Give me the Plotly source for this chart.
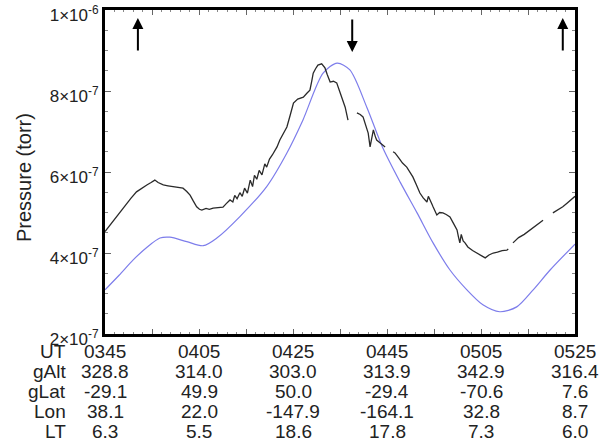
import plotly.graph_objects as go

# Time axis: minutes after 03:45 UT
ut_labels = ["0345", "0405", "0425", "0445", "0505", "0525"]
ut_minutes = [0, 20, 40, 60, 80, 100]
galt = ["328.8", "314.0", "303.0", "313.9", "342.9", "316.4"]
glat = ["-29.1", "49.9", "50.0", "-29.4", "-70.6", "7.6"]
lon = ["38.1", "22.0", "-147.9", "-164.1", "32.8", "8.7"]
lt = ["6.3", "5.5", "18.6", "17.8", "7.3", "6.0"]

# Observed pressure (units of 1e-7 torr), None marks data gaps
obs_t = [0, 1, 1.8, 3, 4.6, 5.5, 6.7, 7.8, 8.9, 9.8, 10.6, 11.3, 12.4, 13.4, 14.5, 15.5, 16.6,
         17.4, 18.1, 18.8, 19.5, 20.1, 20.6, 21.5, 22.2, 23.0, 24.0, 25.1, 25.8, 26.6, 27.2, 27.6,
         28.1, 28.7, 29.2, 29.7, 30.3, 30.9, 31.4, 31.8, 32.3, 32.8, 33.4, 34.0, 34.4, 35.0, 35.6,
         36.2, 36.6, 37.2, 38.0, 38.7, 39.4, 40.1, 41.0, 42.2, 43.0, 43.6, 44.0, 44.3, 44.8, 45.3,
         46.1, 46.8, 47.3, 47.9, 48.6, 49.3, 49.9, 50.4, 51.1, 51.7, None,
         53.6, 54.3, 54.9, 55.5, 56.0, 56.4, 56.8, 57.1, 57.5, 57.8, 58.5, 59.0, 59.6, None,
         61.3, 61.7, 62.5, 63.3, 64.2, 64.9, 65.5, 66.2, 67.0, 67.7, 68.5, 68.8, 69.1, 69.5, 69.8,
         70.2, 70.6, 71.2, 71.9, 72.6, 73.4, 74.2, 74.9, 75.2, 75.5, 75.8, 76.2, 76.6, 77.2, 78.2,
         79.1, 80.0, 80.9, 81.7, 82.6, 83.5, 84.5, 85.5, 85.8, None,
         86.8, 88.0, 89.2, 90.4, 91.8, 93.2, None,
         95.3, 96.5, 97.4, 98.3, 99.0, 99.6, 100]
obs_p = [4.53, 4.68, 4.81, 5.00, 5.23, 5.35, 5.51, 5.60, 5.68, 5.74, 5.80, 5.74, 5.68, 5.66, 5.64, 5.62, 5.60,
         5.52, 5.43, 5.28, 5.14, 5.08, 5.06, 5.10, 5.08, 5.11, 5.12, 5.13, 5.22, 5.31, 5.26, 5.42,
         5.34, 5.49, 5.40, 5.60, 5.48, 5.80, 5.64, 5.92, 5.82, 6.04, 5.93, 6.20, 6.12, 6.32, 6.42,
         6.55, 6.62, 6.79, 6.95, 7.11, 7.40, 7.70, 7.80, 7.85, 7.95, 8.02, 8.25, 8.44, 8.55, 8.64,
         8.67, 8.57, 8.40, 8.22, 8.24, 8.20, 8.00, 7.85, 7.60, 7.28, None,
         7.46, 7.42, 7.36, 7.15, 6.96, 6.62, 6.85, 7.04, 6.88, 6.79, 6.72, 6.68, 6.62, None,
         6.50, 6.47, 6.35, 6.22, 6.12, 6.00, 5.88, 5.70, 5.48, 5.36, 5.26, 5.40, 5.30, 5.22, 5.14,
         5.05, 4.94, 5.00, 4.99, 4.95, 4.89, 4.72, 4.57, 4.40, 4.25, 4.46, 4.30, 4.25, 4.15, 4.06,
         4.00, 3.94, 3.88, 3.95, 4.00, 4.02, 4.06, 4.07, 4.10, None,
         4.25, 4.38, 4.46, 4.57, 4.68, 4.81, None,
         4.99, 5.08, 5.14, 5.23, 5.30, 5.38, 5.40]

# Model pressure (units of 1e-7 torr)
model_t = [0, 3, 6, 9, 11.7, 13.8, 17.4, 20.9, 23.8, 28.7, 34.4, 38.7, 42.1, 46.4, 49.4, 52.1,
           55.7, 59.1, 62.8, 66.4, 69.8, 73.4, 77, 80.4, 84, 87.6, 91.1, 94.7, 100]
model_p = [3.09, 3.45, 3.83, 4.15, 4.37, 4.39, 4.28, 4.18, 4.37, 4.90, 5.64, 6.47, 7.28, 8.44, 8.69, 8.52,
           7.60, 6.60, 5.75, 4.99, 4.25, 3.58, 3.09, 2.72, 2.55, 2.67, 3.09, 3.58, 4.22]

# Event arrows: (time, direction)
arrow_t = [7.0, 52.6, 97.4]
arrow_dir = ["up", "down", "up"]

y_ticks = [2, 4, 6, 8, 10]
y_ticktext = ["2×10<sup>-7</sup>", "4×10<sup>-7</sup>", "6×10<sup>-7</sup>",
              "8×10<sup>-7</sup>", "1×10<sup>-6</sup>"]

E7 = 1e-7
scale = lambda arr: [None if v is None else v * E7 for v in arr]

fig = go.Figure()
fig.add_trace(go.Scatter(x=model_t, y=scale(model_p), mode="lines",
                         line=dict(color="rgb(125,125,235)", width=1.2, shape="spline", smoothing=0.8),
                         showlegend=False, hoverinfo="skip"))
fig.add_trace(go.Scatter(x=obs_t, y=scale(obs_p), mode="lines", connectgaps=False,
                         line=dict(color="#2a2a2a", width=1.3),
                         showlegend=False, hoverinfo="skip"))

FONT = "Liberation Sans, Arial, Helvetica, sans-serif"
TXT = "#222222"

W, H = 606, 442
ML, MT, MR, MB = 105, 10, 31, 108
PH = H - MT - MB  # 324
PW = W - ML - MR  # 470

fig.update_layout(
    width=W, height=H,
    margin=dict(l=ML, r=MR, t=MT, b=MB, autoexpand=False),
    paper_bgcolor="white", plot_bgcolor="white",
    font=dict(family=FONT, color=TXT),
    hovermode=False,
)
fig.update_xaxes(range=[0, 100], showgrid=False, zeroline=False, automargin=False,
                 showline=True, linecolor="black", linewidth=3, mirror="allticks",
                 ticks="inside", tickmode="linear", tick0=0, dtick=10, ticklen=5, tickwidth=1,
                 tickcolor="#666", showticklabels=False,
                 minor=dict(ticks="inside", dtick=2, ticklen=2, tickcolor="#888", tickwidth=1))
fig.update_yaxes(range=[2 * E7, 10 * E7], showgrid=False, zeroline=False, automargin=False,
                 showline=True, linecolor="black", linewidth=3, mirror="allticks",
                 ticks="inside", tickmode="array", tickvals=[v * E7 for v in y_ticks],
                 ticktext=y_ticktext, ticklen=6, tickwidth=1, tickcolor="#666",
                 ticklabeloverflow="allow", ticklabelshift=5,
                 tickfont=dict(size=17, color=TXT, family=FONT),
                 minor=dict(ticks="inside", tickmode="array",
                            tickvals=[(2 + 0.5 * i) * E7 for i in range(17)],
                            ticklen=3, tickcolor="#888", tickwidth=1))

annotations = []
# Y-axis title (centre at page x=24, y=178)
annotations.append(dict(text="Pressure (torr)", xref="paper", yref="paper",
                        x=(24 - ML) / PW, y=(334 - 178) / PH, textangle=-90, showarrow=False,
                        xanchor="center", yanchor="middle",
                        font=dict(size=20, color=TXT, family=FONT)))
# Table under the axis (row centres at page y)
rows = [("UT", ut_labels), ("gAlt", galt), ("gLat", glat), ("Lon", lon), ("LT", lt)]
row_px = [351, 371, 391, 411, 431]
for (name, vals), py in zip(rows, row_px):
    yp = (334 - py) / PH
    annotations.append(dict(text=name, xref="paper", yref="paper", x=(68 - ML) / PW, y=yp,
                            xanchor="right", yanchor="middle", showarrow=False,
                            font=dict(size=19, color=TXT, family=FONT)))
    for t, v in zip(ut_minutes, vals):
        annotations.append(dict(text=v, xref="x", yref="paper", x=t, y=yp,
                                xanchor="center", yanchor="middle", showarrow=False,
                                font=dict(size=19, color=TXT, family=FONT)))
# Arrows
for t, d in zip(arrow_t, arrow_dir):
    if d == "up":
        tip_y, ay = (334 - 18) / PH, 34
    else:
        tip_y, ay = (334 - 52) / PH, -34
    annotations.append(dict(text="", xref="x", yref="paper", x=t, y=tip_y,
                            ax=0, ay=ay, showarrow=True, arrowhead=2, arrowsize=1.1,
                            arrowwidth=2, arrowcolor="black"))
fig.update_layout(annotations=annotations)

# remove the browser's default 8px body margin so the figure sits at the page origin
fig.write_html("out.html", config={"displayModeBar": False},
               post_script="document.body.style.margin='0';")
